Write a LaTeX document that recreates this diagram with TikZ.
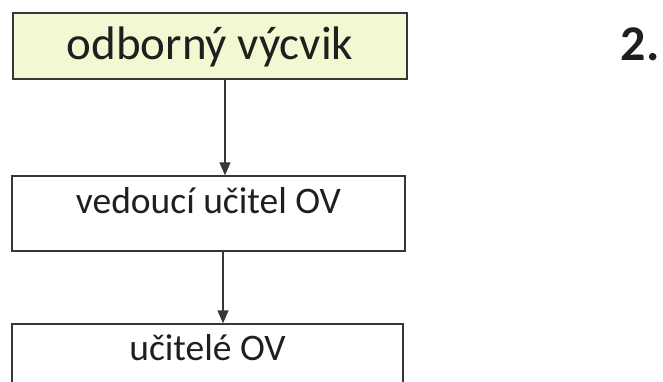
\documentclass[tikz,border=0pt]{standalone}
\usepackage{fontspec}
\setmainfont{Carlito}
\usetikzlibrary{arrows.meta}
\definecolor{boxline}{RGB}{55,55,55}
\definecolor{headfill}{RGB}{241,248,210}
\tikzset{
  stage/.style={draw=boxline, line width=1.4pt, rectangle, inner sep=0pt,
                anchor=base, text=black!88},
  link/.style={draw=boxline, line width=1.4pt,
               -{Triangle[width=11pt,length=13pt]}},
}
\begin{document}
\begin{tikzpicture}[x=1pt,y=-1pt]
  \useasboundingbox (0,0) rectangle (663,382);
  \begin{scope}
    \clip (0,0) rectangle (663,382);
    % top box: the training area
    \node[stage, fill=headfill, minimum width=394pt, text height=47pt, text depth=19pt,
          font=\fontsize{47}{50}\selectfont] (b1) at (210,60) {odborný výcvik};
    % head teacher
    \node[stage, minimum width=393pt, text height=37pt, text depth=38pt,
          font=\fontsize{37.5}{40}\selectfont] (b2) at (208.5,213) {vedoucí učitel OV};
    % teachers (box runs past the lower edge)
    \node[stage, minimum width=391pt, text height=36pt, text depth=44pt,
          font=\fontsize{37.5}{40}\selectfont] (b3) at (207.5,360) {učitelé OV};
    \coordinate (x1) at (225,0);
    \coordinate (x2) at (223,0);
    \draw[link] (b1.south -| x1) -- (b2.north -| x1);
    \draw[link] (b2.south -| x2) -- (b3.north -| x2);
  \end{scope}
  \node[anchor=base, font=\bfseries\fontsize{50}{54}\selectfont, text=black!88]
    (num) at (640,61) {2.};
\end{tikzpicture}
\end{document}
